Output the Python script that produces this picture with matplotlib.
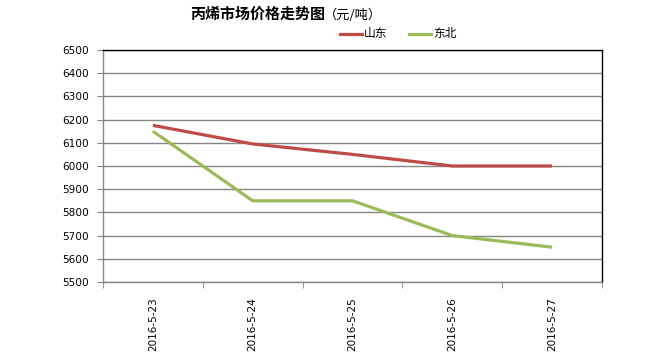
import matplotlib
matplotlib.use('Agg')
import matplotlib.pyplot as plt
from matplotlib.lines import Line2D

plt.rcParams['font.family'] = ['Noto Sans CJK SC', 'DejaVu Sans']
plt.rcParams['axes.unicode_minus'] = False

# data
dates = ['2016-5-23', '2016-5-24', '2016-5-25', '2016-5-26', '2016-5-27']
shandong = [6175, 6095, 6050, 6000, 6000]
dongbei = [6150, 5850, 5850, 5700, 5650]
y_ticks = [5500, 5600, 5700, 5800, 5900, 6000, 6100, 6200, 6300, 6400, 6500]

red = '#BE4B48'
green = '#9BBB59'
grid_gray = '#868686'

fig = plt.figure(figsize=(6.61, 3.62), dpi=100)
ax = fig.add_axes([103 / 661, 80 / 362, 499 / 661, 232 / 362])

x = list(range(len(dates)))
ax.plot(x, shandong, color=red, linewidth=2.3, solid_capstyle='butt', zorder=3)
ax.plot(x, dongbei, color=green, linewidth=2.3, solid_capstyle='butt', zorder=3)

ax.set_xlim(-0.5, len(dates) - 0.5)
ax.set_ylim(5500, 6500)
ax.set_yticks(y_ticks)
ax.set_yticklabels([str(v) for v in y_ticks], family='DejaVu Sans', fontsize=7.6)
ax.yaxis.grid(True, color=grid_gray, linewidth=1)
ax.set_axisbelow(True)

# category labels at centers, tick marks at boundaries
ax.set_xticks(x)
ax.set_xticklabels(dates, rotation=90, family='DejaVu Sans', fontsize=7.5)
ax.tick_params(axis='x', which='major', length=0, pad=11)
ax.set_xticks([i - 0.5 for i in range(len(dates) + 1)], minor=True)
ax.tick_params(axis='x', which='minor', length=4, color=grid_gray, direction='out')
ax.tick_params(axis='y', length=4, color=grid_gray, direction='out', pad=6)

ax.spines['left'].set_color(grid_gray)
ax.spines['bottom'].set_color(grid_gray)
ax.spines['top'].set_color('black')
ax.spines['right'].set_color('black')
for s in ax.spines.values():
    s.set_linewidth(1)

# title
fig.text(325 / 661, 1 - 14 / 362, '丙烯市场价格走势图', ha='right', va='center',
         fontsize=10.8, fontweight='bold')
fig.text(324 / 661, 1 - 15 / 362, '（元/吨）', ha='left', va='center', fontsize=9.5)

# legend
for x0, col, name in [(340, red, '山东'), (409, green, '东北')]:
    fig.add_artist(Line2D([x0 / 661, (x0 + 22) / 661], [1 - 34 / 362, 1 - 34 / 362],
                          color=col, linewidth=2.3, transform=fig.transFigure))
    fig.text((x0 + 24) / 661, 1 - 34 / 362, name, ha='left', va='center', fontsize=8.5)

fig.savefig('out.png', dpi=100)
